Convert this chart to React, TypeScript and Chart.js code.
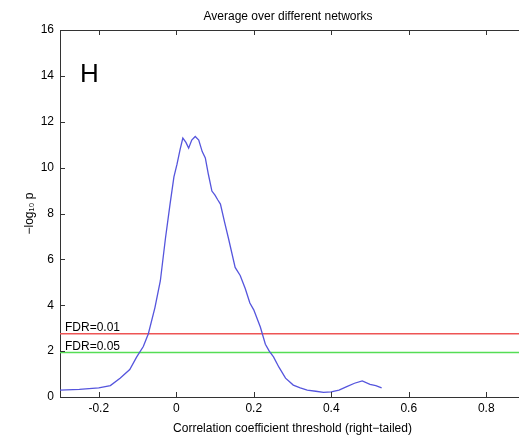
import React, { useEffect, useRef } from "react";
import { Chart, registerables } from "chart.js";
Chart.register(...registerables);

const xs = [-0.3, -0.25, -0.2, -0.17, -0.145, -0.12, -0.102, -0.085, -0.072, -0.055, -0.041, -0.028, -0.016, -0.006, 0.002, 0.01, 0.017, 0.025, 0.032, 0.04, 0.049, 0.058, 0.067, 0.075, 0.083, 0.092, 0.1, 0.107, 0.114, 0.125, 0.135, 0.152, 0.165, 0.178, 0.19, 0.2, 0.217, 0.23, 0.24, 0.251, 0.265, 0.282, 0.302, 0.32, 0.338, 0.36, 0.38, 0.4, 0.42, 0.44, 0.46, 0.48, 0.5, 0.515, 0.53];
const ys = [0.3, 0.33, 0.4, 0.5, 0.82, 1.2, 1.75, 2.2, 2.76, 3.9, 5.07, 6.9, 8.41, 9.6, 10.15, 10.8, 11.29, 11.1, 10.85, 11.2, 11.36, 11.2, 10.7, 10.42, 9.7, 8.98, 8.8, 8.6, 8.41, 7.6, 6.9, 5.65, 5.3, 4.73, 4.1, 3.8, 3.05, 2.3, 2.0, 1.75, 1.3, 0.82, 0.52, 0.4, 0.3, 0.25, 0.2, 0.22, 0.3, 0.45, 0.6, 0.7, 0.55, 0.5, 0.4];
const fdrLevels = [2.76, 1.94];
const fdrLabels = ["FDR=0.01", "FDR=0.05"];
const fdrColors = ["#ee5555", "#55dd55"];
const xTicks = [-0.2, 0, 0.2, 0.4, 0.6, 0.8];
const yTicks = [0, 2, 4, 6, 8, 10, 12, 14, 16];
const titleText = "Average over different networks";

const F = "'Liberation Sans', Arial, sans-serif";

export default function App() {
  const ref = useRef<HTMLCanvasElement>(null);
  useEffect(() => {
    const textPlugin = {
      id: "txt",
      afterDraw(c: any) {
        const ctx = c.ctx;
        const sx = c.scales.x, sy = c.scales.y;
        const a = c.chartArea;
        ctx.save();
        ctx.strokeStyle = "#333";
        ctx.lineWidth = 1;
        ctx.beginPath();
        ctx.moveTo(a.left, a.top + 0.5); ctx.lineTo(a.right, a.top + 0.5);
        ctx.moveTo(a.right - 0.5, a.top); ctx.lineTo(a.right - 0.5, a.bottom);
        xTicks.forEach((v) => {
          const p = Math.round(sx.getPixelForValue(v)) + 0.5;
          ctx.moveTo(p, a.bottom); ctx.lineTo(p, a.bottom - 5);
          ctx.moveTo(p, a.top); ctx.lineTo(p, a.top + 5);
        });
        yTicks.forEach((v) => {
          const p = Math.round(sy.getPixelForValue(v)) + 0.5;
          ctx.moveTo(a.left, p); ctx.lineTo(a.left + 5, p);
          ctx.moveTo(a.right, p); ctx.lineTo(a.right - 5, p);
        });
        ctx.stroke();
        ctx.fillStyle = "#000";
        ctx.font = `12px ${F}`;
        ctx.textAlign = "center";
        ctx.fillText(titleText, 288, 20);
        ctx.textAlign = "left";
        ctx.font = `26px ${F}`;
        ctx.textBaseline = "alphabetic";
        ctx.fillText("H", 80, 82);
        ctx.font = `12px ${F}`;
        fdrLevels.forEach((v, i) => {
          ctx.fillText(fdrLabels[i], sx.left + 5, sy.getPixelForValue(v) - 3);
        });
        ctx.restore();
      },
    };
    const chart = new Chart(ref.current!, {
      type: "line",
      data: {
        datasets: [
          { data: xs.map((x, i) => ({ x, y: ys[i] })), borderColor: "#5555dd", borderWidth: 1.3, pointRadius: 0, tension: 0 },
          ...fdrLevels.map((v, i) => ({
            data: [{ x: -0.3, y: v }, { x: 0.9, y: v }],
            borderColor: fdrColors[i], borderWidth: 1.5, pointRadius: 0,
          })),
        ],
      },
      options: {
        animation: false,
        responsive: false,
        layout: { padding: { left: 18, top: 30, right: 0, bottom: 0 } },
        plugins: {
          legend: { display: false },
          tooltip: { enabled: false },
          title: { display: false },
        },
        scales: {
          x: {
            type: "linear", min: -0.3, max: 0.9,
            afterBuildTicks: (s: any) => { s.ticks = xTicks.map((v) => ({ value: v })); },
            afterFit: (s: any) => { s.height = 43; },
            ticks: { color: "#000", padding: 4, font: { family: F, size: 12 }, maxRotation: 0, callback: (v: any) => (Math.abs(v) < 1e-9 ? "0" : String(Number(v).toFixed(1))) },
            grid: { display: false, drawTicks: false },
            border: { color: "#333" },
            title: { display: true, text: "Correlation coefficient threshold (right\u2212tailed)", color: "#000", font: { family: F, size: 12 }, padding: { top: 2 } },
          },
          y: {
            min: 0, max: 16,
            afterFit: (s: any) => { s.width = 42; },
            afterBuildTicks: (s: any) => { s.ticks = yTicks.map((v) => ({ value: v })); },
            ticks: { color: "#000", padding: 6, font: { family: F, size: 12 } },
            grid: { display: false, drawTicks: false },
            border: { color: "#333" },
            title: { display: true, text: "\u2212log\u2081\u2080 p", color: "#000", font: { family: F, size: 12 }, padding: { bottom: 4 } },
          },
        },
      },
      plugins: [textPlugin],
    } as any);
    return () => chart.destroy();
  }, []);
  return (
    <div style={{ position: "fixed", left: 0, top: 0, width: 519, height: 440, overflow: "hidden", background: "#fff" }}>
      <canvas ref={ref} width={525} height={440} style={{ width: 525, height: 440 }} />
    </div>
  );
}
